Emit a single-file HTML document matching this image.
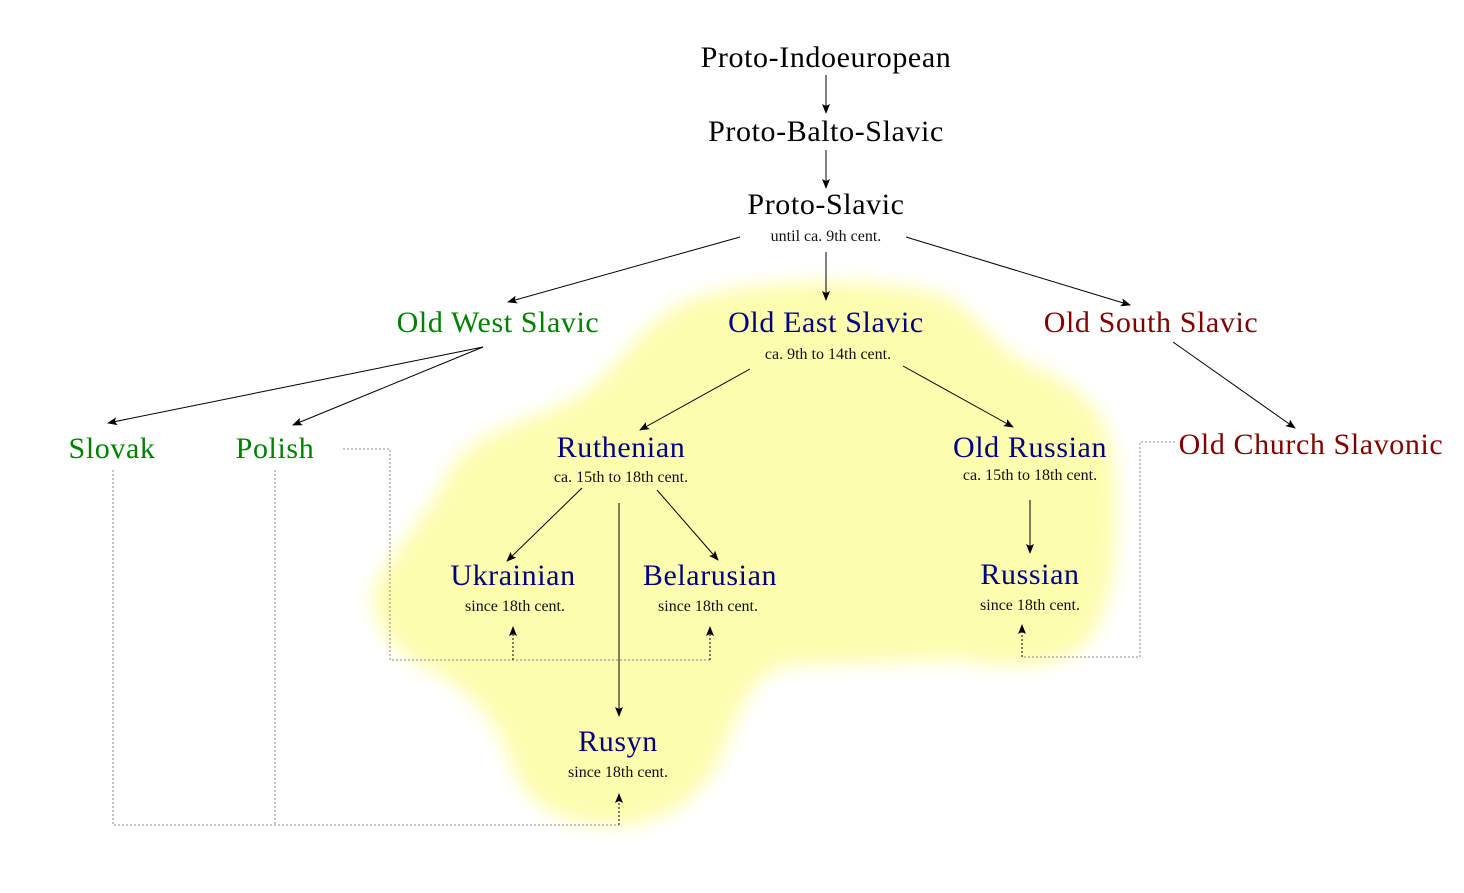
<!DOCTYPE html>
<html><head><style>
html,body{margin:0;padding:0;background:#fff;}
svg{display:block;}
text{font-family:"Liberation Serif",serif;text-anchor:middle;}
.m{font-size:30px;letter-spacing:0.6px;}
.s{font-size:16px;fill:#111;}
.b{fill:#000080}.g{fill:#008000}.r{fill:#800000}
</style></head><body>
<svg width="1464" height="893" viewBox="0 0 1464 893" xmlns="http://www.w3.org/2000/svg">
<defs>
<filter id="bl" x="-20%" y="-20%" width="140%" height="140%"><feGaussianBlur stdDeviation="9"/></filter>
<marker id="a" markerWidth="10" markerHeight="8" refX="9" refY="4" orient="auto" markerUnits="userSpaceOnUse"><path d="M0,0 L10,4 L0,8 L2,4 Z" fill="#000"/></marker>
</defs>
<path filter="url(#bl)" fill="#fdfdb0" d="M690,300 C740,280 880,275 940,295 C980,310 990,345 1030,365 C1080,385 1110,410 1115,470 C1120,540 1115,610 1085,645 C1060,670 1000,668 960,660 L790,665 C750,675 740,710 720,760 C700,800 660,830 600,825 C540,820 520,790 510,760 C495,715 470,690 420,665 C375,640 365,600 380,575 C400,545 430,510 450,470 C470,430 540,420 580,395 C620,370 640,320 690,300 Z"/>
<g stroke="#000" stroke-width="1" fill="none" marker-end="url(#a)">
<line x1="826" y1="75" x2="826" y2="113"/>
<line x1="826" y1="150" x2="826" y2="188"/>
<line x1="740" y1="237" x2="508" y2="302"/>
<line x1="826" y1="252" x2="826" y2="300"/>
<line x1="906" y1="237" x2="1130" y2="305"/>
<line x1="483" y1="347" x2="108" y2="423"/>
<line x1="483" y1="347" x2="293" y2="425"/>
<line x1="750" y1="369" x2="640" y2="430"/>
<line x1="903" y1="366" x2="1013" y2="427"/>
<line x1="582" y1="488" x2="507" y2="561"/>
<line x1="657" y1="490" x2="718" y2="560"/>
<line x1="619" y1="503" x2="619" y2="716"/>
<line x1="1030" y1="500" x2="1030" y2="553"/>
<line x1="1173" y1="342" x2="1295" y2="428"/>
</g>
<g stroke="#888" stroke-width="1" fill="none" stroke-dasharray="2,2">
<polyline points="343,449 390,449 390,660 710,660"/>
<polyline points="113,470 113,825 619,825"/>
<polyline points="275,470 275,825"/>
<polyline points="1175,442 1140,442 1140,657 1022,657"/>
</g>
<g stroke="#000" stroke-width="1" fill="none" stroke-dasharray="2,2" marker-end="url(#a)">
<line x1="710" y1="660" x2="710" y2="627"/>
<line x1="513" y1="660" x2="513" y2="627"/>
<line x1="619" y1="825" x2="619" y2="794"/>
<line x1="1022" y1="657" x2="1022" y2="625"/>
</g>
<text class="m" x="826" y="67">Proto-Indoeuropean</text>
<text class="m" x="826" y="141">Proto-Balto-Slavic</text>
<text class="m" x="826" y="214">Proto-Slavic</text>
<text class="s" x="826" y="241">until ca. 9th cent.</text>
<text class="m g" x="498" y="332">Old West Slavic</text>
<text class="m b" x="826" y="332">Old East Slavic</text>
<text class="s" x="828" y="359">ca. 9th to 14th cent.</text>
<text class="m r" x="1151" y="332">Old South Slavic</text>
<text class="m g" x="112" y="458">Slovak</text>
<text class="m g" x="275" y="458">Polish</text>
<text class="m b" x="621" y="457">Ruthenian</text>
<text class="s" x="621" y="482">ca. 15th to 18th cent.</text>
<text class="m b" x="1030" y="457">Old Russian</text>
<text class="s" x="1030" y="480">ca. 15th to 18th cent.</text>
<text class="m r" x="1311" y="454">Old Church Slavonic</text>
<text class="m b" x="513" y="585">Ukrainian</text>
<text class="s" x="515" y="611">since 18th cent.</text>
<text class="m b" x="710" y="585">Belarusian</text>
<text class="s" x="708" y="611">since 18th cent.</text>
<text class="m b" x="1030" y="584">Russian</text>
<text class="s" x="1030" y="610">since 18th cent.</text>
<text class="m b" x="618" y="751">Rusyn</text>
<text class="s" x="618" y="777">since 18th cent.</text>
</svg>
</body></html>
